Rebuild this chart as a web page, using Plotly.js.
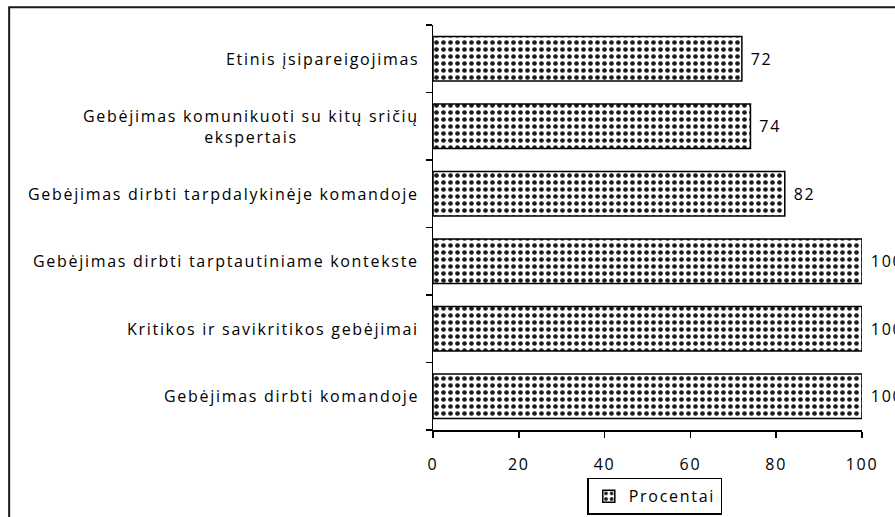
<!DOCTYPE html>
<html>
<head>
<meta charset="utf-8">
<script src="https://cdn.plot.ly/plotly-3.0.1.min.js"></script>
<style>
  html, body { margin: 0; padding: 0; background: #fff; overflow: hidden; }
  #chart { width: 895px; height: 517px; }
  svg text { letter-spacing: 1.7px; }
</style>
</head>
<body>
<div id="chart"></div>
<script>
// Categories listed bottom-to-top
const categories = [
  "Gebėjimas dirbti komandoje",
  "Kritikos ir savikritikos gebėjimai",
  "Gebėjimas dirbti tarptautiniame kontekste",
  "Gebėjimas dirbti tarpdalykinėje komandoje",
  "Gebėjimas komunikuoti su kitų sričių ekspertais",
  "Etinis įsipareigojimas"
];
const categoryLabels = [
  "Gebėjimas dirbti komandoje",
  "Kritikos ir savikritikos gebėjimai",
  "Gebėjimas dirbti tarptautiniame kontekste",
  "Gebėjimas dirbti tarpdalykinėje komandoje",
  "Gebėjimas komunikuoti su kitų sričių<br>ekspertais",
  "Etinis įsipareigojimas"
];
const percentValues = [100, 100, 100, 82, 74, 72];
const seriesName = "Procentai";
const xTickValues = [0, 20, 40, 60, 80, 100];

const FONT = "Open Sans, Lato, sans-serif";

const trace = {
  type: "bar",
  orientation: "h",
  name: seriesName,
  y: categories,
  x: percentValues,
  width: 0.66,
  text: percentValues.map(v => "\u00a0" + v),
  textposition: "outside",
  cliponaxis: false,
  textfont: { family: FONT, size: 16, color: "#000" },
  marker: {
    color: "#fff",
    line: { color: "#000", width: 1.5 },
    pattern: { shape: ".", fgcolor: "#1a1a1a", bgcolor: "#fff", size: 7, solidity: 0.35 }
  },
  showlegend: true
};

const annotations = categories.map((c, i) => ({
  xref: "paper", yref: "y",
  x: -0.029, y: c,
  xanchor: "right", yanchor: "middle",
  align: "center",
  text: categoryLabels[i],
  showarrow: false,
  font: { family: FONT, size: 16, color: "#000" }
}));

const layout = {
  width: 895, height: 517,
  margin: { l: 433, r: 33, t: 25, b: 87, pad: 0, autoexpand: false },
  paper_bgcolor: "#fff", plot_bgcolor: "#fff",
  font: { family: FONT, size: 16, color: "#000" },
  bargap: 0.34,
  xaxis: {
    range: [0, 100],
    tickvals: xTickValues,
    ticktext: xTickValues.map(String),
    ticks: "outside", ticklen: 6, tickwidth: 1.5, tickcolor: "#000",
    showline: true, linecolor: "#000", linewidth: 1.5,
    showgrid: false, zeroline: false,
    tickfont: { family: FONT, size: 16, color: "#000" },
    ticklabelstandoff: 13,
    automargin: false,
    fixedrange: true
  },
  yaxis: {
    type: "category",
    categoryorder: "array", categoryarray: categories,
    ticks: "outside", ticklen: 6, tickwidth: 1.5, tickcolor: "#000",
    tickson: "boundaries",
    showticklabels: false,
    showline: true, linecolor: "#000", linewidth: 1.5,
    showgrid: false, zeroline: false,
    range: [-0.5, 5.5],
    automargin: false,
    fixedrange: true
  },
  legend: {
    orientation: "h",
    x: 0.517, xanchor: "center",
    y: -0.118, yanchor: "top",
    bordercolor: "#000", borderwidth: 1.5,
    bgcolor: "#fff",
    font: { family: FONT, size: 16, color: "#000" }
  },
  annotations: annotations,
  shapes: [{
    type: "rect", xref: "paper", yref: "paper",
    x0: -0.988, x1: 1.5, y0: -0.5, y1: 1.044,
    line: { color: "#1a1a1a", width: 2 },
    fillcolor: "rgba(0,0,0,0)", layer: "below"
  }]
};

Plotly.newPlot("chart", [trace], layout, { displayModeBar: false, staticPlot: true });
</script>
</body>
</html>
